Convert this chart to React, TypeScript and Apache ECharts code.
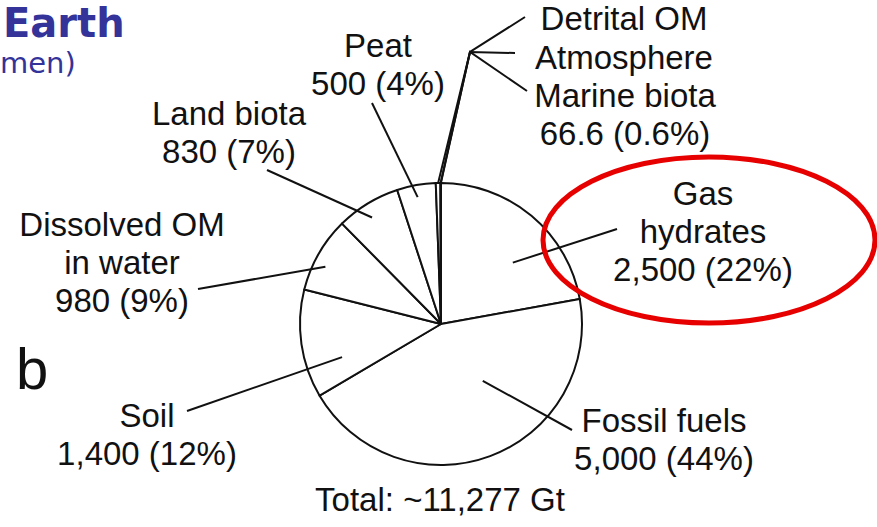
import React, { useEffect, useRef } from "react";
import * as echarts from "echarts";

// Global organic carbon pools, in gigatonnes of carbon (Gt)
const CATEGORIES = [
  "Gas hydrates",
  "Fossil fuels",
  "Soil",
  "Dissolved OM in water",
  "Land biota",
  "Peat",
  "Detrital OM",
  "Atmosphere",
  "Marine biota",
];
const VALUES_GT = [2500, 5000, 1400, 980, 830, 500, 60, 3.6, 3];
// Display titles (line-broken) for each pool
const TITLES = [
  "Gas\nhydrates",
  "Fossil fuels",
  "Soil",
  "Dissolved OM\nin water",
  "Land biota",
  "Peat",
  "Detrital OM",
  "Atmosphere",
  "Marine biota",
];
// The three smallest pools share one value line
const SMALL_GROUP = [6, 7, 8];

const TOTAL = VALUES_GT.reduce((a, b) => a + b, 0);

// Pie geometry (px)
const CX = 441;
const CY = 324;
const R = 141;

// Leader-line anchors: inner point given as (fraction across slice, fraction of radius),
// label block centre, where the line meets the text and an optional junction.
const LABEL_LAYOUT: Record<number, { f: number; r: number; lx: number; ly: number; ex: number; ey: number; jx?: number; jy?: number }> = {
  0: { f: 0.62, r: 0.67, lx: 703, ly: 231, ex: 617, ey: 229 },
  1: { f: 0.4, r: 0.5, lx: 664, ly: 439, ex: 572, ey: 430 },
  2: { f: 0.27, r: 0.74, lx: 147, ly: 434, ex: 187, ey: 411 },
  3: { f: 0.39, r: 0.915, lx: 122, ly: 262, ex: 198, ey: 289 },
  4: { f: 0.44, r: 0.9, lx: 229, ly: 132, ex: 267, ey: 170 },
  5: { f: 0.48, r: 0.915, lx: 378, ly: 64, ex: 372, ey: 103 },
  6: { f: 0.5, r: 1.0, lx: 624, ly: 18, ex: 525, ey: 17, jx: 470, jy: 52 },
  7: { f: 0.5, r: 1.0, lx: 624, ly: 57, ex: 515, ey: 53, jx: 470, jy: 52 },
  8: { f: 0.5, r: 1.0, lx: 625, ly: 114, ex: 527, ey: 91, jx: 470, jy: 52 },
};

function sliceSpan(i: number): [number, number] {
  let a0 = 0;
  for (let j = 0; j < i; j++) a0 += (VALUES_GT[j] / TOTAL) * 360;
  return [a0, a0 + (VALUES_GT[i] / TOTAL) * 360];
}

function polar(deg: number, frac: number): number[] {
  const t = (deg * Math.PI) / 180;
  return [CX + R * frac * Math.sin(t), CY - R * frac * Math.cos(t)];
}

function leaderPoints(i: number): number[][] {
  const L = LABEL_LAYOUT[i];
  const [a0, a1] = sliceSpan(i);
  const start = polar(a0 + L.f * (a1 - a0), L.r);
  return L.jx !== undefined
    ? [start, [L.jx, L.jy as number], [L.ex, L.ey]]
    : [start, [L.ex, L.ey]];
}

function fmtValue(v: number): string {
  return Number.isInteger(v) ? v.toLocaleString("en-US") : v.toFixed(1);
}

function fmtPct(v: number): string {
  const p = (v / TOTAL) * 100;
  return p < 1 ? p.toFixed(1) + "%" : Math.round(p) + "%";
}

function labelText(i: number): string {
  if (SMALL_GROUP.includes(i)) {
    if (i !== SMALL_GROUP[SMALL_GROUP.length - 1]) return TITLES[i];
    const sum = SMALL_GROUP.reduce((s, k) => s + VALUES_GT[k], 0);
    return `${TITLES[i]}\n${fmtValue(Math.round(sum * 10) / 10)} (${fmtPct(sum)})`;
  }
  return `${TITLES[i]}\n${fmtValue(VALUES_GT[i])} (${fmtPct(VALUES_GT[i])})`;
}

const TEXT_FONT = '"Liberation Sans", Arial, Helvetica, sans-serif';
const INK = "#111111";
const HEADER_BLUE = "#333399";

export default function App() {
  const ref = useRef<HTMLDivElement>(null);

  useEffect(() => {
    if (!ref.current) return;
    const chart = echarts.init(ref.current, undefined, { renderer: "svg" });

    const leaders = CATEGORIES.map((_, i) => ({
      type: "polyline",
      shape: { points: leaderPoints(i) },
      style: { stroke: INK, lineWidth: 2, fill: "none", lineJoin: "miter" },
      z: 5,
    }));

    const option: echarts.EChartsOption = {
      animation: false,
      backgroundColor: "#ffffff",
      series: [
        {
          type: "pie",
          center: [CX, CY],
          radius: R,
          startAngle: 90,
          clockwise: true,
          avoidLabelOverlap: false,
          silent: true,
          data: CATEGORIES.map((name, i) => ({ name, value: VALUES_GT[i] })),
          itemStyle: {
            color: "#ffffff",
            borderColor: INK,
            borderWidth: 2,
            borderJoin: "round",
          },
          label: {
            show: true,
            position: "outside",
            formatter: (p: any) => labelText(p.dataIndex),
            fontFamily: TEXT_FONT,
            fontSize: 33,
            lineHeight: 38,
            color: INK,
          },
          labelLine: { show: false },
          labelLayout: (params: any) => {
            const L = LABEL_LAYOUT[params.dataIndex];
            return { x: L.lx, y: L.ly, align: "center", verticalAlign: "middle" };
          },
        },
      ],
      graphic: [
        ...(leaders as any[]),
        {
          type: "ellipse",
          shape: { cx: 709, cy: 240, rx: 166, ry: 83 },
          style: { fill: "none", stroke: "#e60000", lineWidth: 5 },
          z: 10,
        },
        {
          type: "text",
          x: 3,
          y: 3,
          style: {
            text: "Earth",
            font: 'bold 40px "DejaVu Sans", Verdana, sans-serif',
            fill: HEADER_BLUE,
            textAlign: "left",
            textVerticalAlign: "top",
          },
        },
        {
          type: "text",
          x: 0,
          y: 63,
          style: {
            text: "men)",
            font: '29px "DejaVu Sans", Verdana, sans-serif',
            fill: HEADER_BLUE,
            textAlign: "left",
            textVerticalAlign: "middle",
          },
        },
        {
          type: "text",
          x: 16,
          y: 368,
          style: {
            text: "b",
            font: `58px ${TEXT_FONT}`,
            fill: INK,
            textAlign: "left",
            textVerticalAlign: "middle",
          },
        },
        {
          type: "text",
          x: 440,
          y: 499,
          style: {
            text: `Total: ~${Math.round(TOTAL).toLocaleString("en-US")} Gt`,
            font: `33px ${TEXT_FONT}`,
            fill: INK,
            textAlign: "center",
            textVerticalAlign: "middle",
          },
        },
      ],
    };

    chart.setOption(option);
    return () => chart.dispose();
  }, []);

  return (
    <div
      ref={ref}
      style={{ position: "fixed", left: 0, top: 0, width: 877, height: 527, background: "#fff" }}
    />
  );
}
